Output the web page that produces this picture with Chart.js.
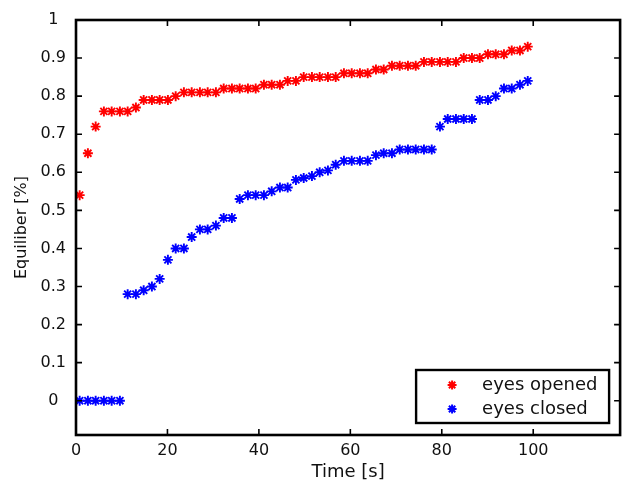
<!DOCTYPE html>
<html>
<head>
<meta charset="utf-8">
<script src="https://cdn.jsdelivr.net/npm/chart.js@4/dist/chart.umd.min.js"></script>
<style>
  html, body { margin: 0; padding: 0; background: #fff; }
  canvas { display: block; }
</style>
</head>
<body>
<canvas id="equilibrium-chart" width="627" height="483"></canvas>
<script>
// sample times, seconds
const time_s = [
  0.8, 2.6, 4.3, 6.1, 7.8, 9.6, 11.3, 13.1, 14.8, 16.6,
  18.3, 20.1, 21.8, 23.6, 25.3, 27.1, 28.8, 30.6, 32.3, 34.1,
  35.8, 37.6, 39.3, 41.1, 42.8, 44.6, 46.3, 48.1, 49.8, 51.6,
  53.3, 55.1, 56.8, 58.6, 60.3, 62.1, 63.8, 65.6, 67.3, 69.1,
  70.8, 72.6, 74.3, 76.1, 77.8, 79.6, 81.3, 83.1, 84.8, 86.6,
  88.3, 90.1, 91.8, 93.6, 95.3, 97.1, 98.8,
];

const eyes_opened = [
  0.54, 0.65, 0.72, 0.76, 0.76, 0.76, 0.76, 0.77, 0.79, 0.79,
  0.79, 0.79, 0.80, 0.81, 0.81, 0.81, 0.81, 0.81, 0.82, 0.82,
  0.82, 0.82, 0.82, 0.83, 0.83, 0.83, 0.84, 0.84, 0.85, 0.85,
  0.85, 0.85, 0.85, 0.86, 0.86, 0.86, 0.86, 0.87, 0.87, 0.88,
  0.88, 0.88, 0.88, 0.89, 0.89, 0.89, 0.89, 0.89, 0.90, 0.90,
  0.90, 0.91, 0.91, 0.91, 0.92, 0.92, 0.93,
];

const eyes_closed = [
  0, 0, 0, 0, 0, 0, 0.28, 0.28, 0.29, 0.30,
  0.32, 0.37, 0.40, 0.40, 0.43, 0.45, 0.45, 0.46, 0.48, 0.48,
  0.53, 0.54, 0.54, 0.54, 0.55, 0.56, 0.56, 0.58, 0.585, 0.59,
  0.60, 0.605, 0.62, 0.63, 0.63, 0.63, 0.63, 0.645, 0.65, 0.65,
  0.66, 0.66, 0.66, 0.66, 0.66, 0.72, 0.74, 0.74, 0.74, 0.74,
  0.79, 0.79, 0.80, 0.82, 0.82, 0.83, 0.84,
];

const series_labels = ["eyes opened", "eyes closed"];
const x_range = [0, 119];
const y_range = [-0.09, 1];

const to_points = (values) => values.map((v, i) => ({ x: time_s[i], y: v }));

const make_dataset = (label, values, color) => ({
  label: label,
  data: to_points(values),
  showLine: false,
  pointStyle: "star",
  pointRadius: 5,
  pointHoverRadius: 5,
  borderWidth: 1.9,
  borderColor: color,
  backgroundColor: color,
});

// matlab style box with ticks pointing inwards on all four sides
const box_axes = {
  id: "box_axes",
  afterDatasetsDraw(chart) {
    const { ctx, chartArea: a, scales } = chart;
    const tick_len = 6;
    ctx.save();
    ctx.strokeStyle = "#000";
    ctx.lineWidth = 1.6;
    ctx.beginPath();
    scales.x.ticks.forEach((t) => {
      const px = scales.x.getPixelForValue(t.value);
      ctx.moveTo(px, a.bottom);
      ctx.lineTo(px, a.bottom - tick_len);
      ctx.moveTo(px, a.top);
      ctx.lineTo(px, a.top + tick_len);
    });
    scales.y.ticks.forEach((t) => {
      const py = scales.y.getPixelForValue(t.value);
      ctx.moveTo(a.left, py);
      ctx.lineTo(a.left + tick_len, py);
      ctx.moveTo(a.right, py);
      ctx.lineTo(a.right - tick_len, py);
    });
    ctx.stroke();
    ctx.lineWidth = 2.6;
    ctx.strokeRect(a.left, a.top, a.right - a.left, a.bottom - a.top);
    ctx.restore();
  },
};

// boxed legend in the lower right corner of the plot
const box_legend = {
  id: "box_legend",
  afterDraw(chart) {
    const { ctx, chartArea: a } = chart;
    const w = 193, h = 53;
    const left = a.right - 11 - w;
    const top = a.bottom - 12 - h;
    ctx.save();
    ctx.fillStyle = "#fff";
    ctx.fillRect(left, top, w, h);
    ctx.strokeStyle = "#000";
    ctx.lineWidth = 2.4;
    ctx.strokeRect(left, top, w, h);
    ctx.font = "18px 'DejaVu Sans'";
    ctx.textBaseline = "middle";
    ctx.textAlign = "left";
    chart.data.datasets.forEach((ds, i) => {
      const cy = top + 15 + i * 24;
      ctx.strokeStyle = ds.borderColor;
      ctx.fillStyle = ds.borderColor;
      ctx.lineWidth = 2;
      Chart.helpers.drawPoint(ctx, { pointStyle: "star", radius: 4.5, rotation: 0, borderWidth: 2 }, left + 36, cy);
      ctx.fillStyle = "#111";
      ctx.fillText(ds.label, left + 66, cy);
    });
    ctx.restore();
  },
};

const tick_font = { family: "'DejaVu Sans'", size: 16 };

const config = {
  type: "scatter",
  data: {
    datasets: [
      make_dataset(series_labels[0], eyes_opened, "#ff0000"),
      make_dataset(series_labels[1], eyes_closed, "#0000ff"),
    ],
  },
  options: {
    responsive: false,
    animation: false,
    devicePixelRatio: 1,
    layout: { padding: { top: 20, right: 6, left: 0, bottom: 0 } },
    plugins: {
      legend: { display: false },
      tooltip: { enabled: false },
    },
    scales: {
      x: {
        type: "linear",
        min: x_range[0],
        max: x_range[1],
        grid: { display: false, drawTicks: false },
        border: { display: false },
        ticks: {
          stepSize: 20,
          includeBounds: false,
          padding: 6,
          color: "#111",
          font: tick_font,
          maxRotation: 0,
        },
        title: {
          display: true,
          text: "Time [s]",
          color: "#111",
          font: { family: "'DejaVu Sans'", size: 18 },
          padding: { top: 0, bottom: 0 },
        },
        afterFit: (scale) => {
          scale.height = 48;
        },
      },
      y: {
        type: "linear",
        min: y_range[0],
        max: y_range[1],
        grid: { display: false, drawTicks: false },
        border: { display: false },
        ticks: {
          stepSize: 0.1,
          includeBounds: false,
          padding: 10,
          crossAlign: "center",
          color: "#111",
          font: tick_font,
          callback: (value) => `${Math.round(value * 10) / 10}`,
        },
        title: {
          display: true,
          text: "Equiliber [%]",
          color: "#111",
          font: { family: "'DejaVu Sans'", size: 16 },
          padding: { top: 12, bottom: 0 },
        },
        afterFit: (scale) => {
          scale.width = 76;
        },
      },
    },
  },
  plugins: [box_axes, box_legend],
};

const result_chart = new Chart(document.getElementById("equilibrium-chart"), config);
</script>
</body>
</html>
